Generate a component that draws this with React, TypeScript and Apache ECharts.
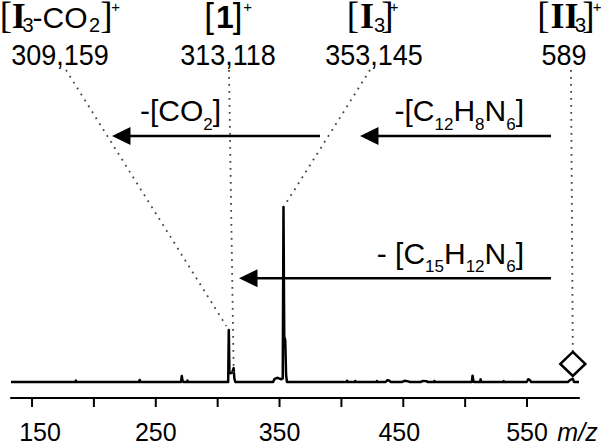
import React, { useEffect, useRef } from 'react';
import * as echarts from 'echarts';

// ---- spectrum (m/z, relative intensity) ----
const specMz = [
  133, 185.0, 185.4, 185.8, 236.6, 237.0, 237.4, 270.4, 271.0, 271.6, 272.4,
  275.2, 275.6, 276.0, 308.5, 309.0, 309.5, 310.5, 311.8, 312.9, 313.5, 314.3,
  344.8, 346.0, 348.5, 351.0, 352.6, 353.2, 353.8, 354.6, 355.3, 356.0,
  404.2, 404.6, 405.0, 410.8, 411.2, 411.6, 428.3, 428.7, 429.1, 435.8, 437.0,
  438.5, 440.0, 449.0, 451.0, 453.0, 455.5, 464.0, 466.0, 468.5, 470.0, 474.8,
  475.2, 475.6, 505.4, 506.0, 506.6, 507.2, 512.0, 512.5, 513.0, 530.8, 531.2,
  531.6, 549.8, 551.0, 552.5, 553.2, 583.0, 585.0, 587.0, 588.0, 592,
];
const specInt = [
  0, 0, 0.8, 0, 0, 1.2, 0, 0, 3.4, 0.8, 0,
  0, 0.8, 0, 0, 29.7, 5.5, 5.0, 5.5, 8.0, 2.0, 0,
  0, 1.8, 2.4, 1.6, 2.0, 100, 26, 24, 4, 0,
  0, 0.7, 0, 0, 0.6, 0, 0, 0.6, 0, 0, 1.0,
  0.8, 0, 0, 0.7, 0.5, 0, 0, 0.6, 0.5, 0, 0,
  0.6, 0, 0, 3.6, 1.0, 0, 0, 1.5, 0, 0, 0.5,
  0, 0, 1.6, 1.0, 0, 0, 1.2, 1.8, 0, 0,
];

// ---- axis ----
const xMin = 133;
const xMax = 592;
const tickValues = [150, 200, 250, 300, 350, 400, 450, 500, 550];
const tickLabels = ['150', '', '250', '', '350', '', '450', '', '550'];

// ---- annotated ions: where the connectors meet the spectrum ----
const ionMz = [307, 313, 354.2, 587];
const ionInt = [32, 3, 101, 17.5];
const ionMassLabels = ['309,159', '313,118', '353,145', '589'];
const markerMz = 587;
const markerInt = 10.3;

const SANS = '"Liberation Sans", Arial, sans-serif';
const SERIF = '"Liberation Serif", "Times New Roman", serif';

function T(text: string, x: number, y: number, size: number, family: string, weight = 'normal', extra: any = {}) {
  return {
    type: 'text',
    x,
    y,
    silent: true,
    ...extra,
    style: {
      text,
      fill: '#000',
      fontSize: size,
      fontFamily: family,
      fontWeight: weight,
      textAlign: 'center',
      textVerticalAlign: 'middle',
      verticalAlign: 'middle',
    },
  };
}

// label pieces
const BR_Y = 15.2, I_Y = 16.2, SUB_Y = 24.8, M_Y = 17.9, SUP_Y = 6.7;
function ionTitleGraphics() {
  const g: any[] = [];
  // [I3-CO2]+
  g.push(T('[', 5.8, BR_Y, 37, SERIF));
  g.push(T('I', 18.8, I_Y, 36, SERIF, 'bold'));
  g.push(T('3', 28, SUB_Y, 20, SANS));
  g.push(T('-CO', 60, M_Y, 30, SANS));
  g.push(T('2', 94.5, SUB_Y, 20, SANS));
  g.push(T(']', 106.5, BR_Y, 37, SERIF));
  g.push(T('+', 115.5, SUP_Y, 15, SANS));
  // [1]+
  g.push(T('[', 209, 15.5, 35, SANS));
  g.push(T('1', 225, 17.2, 32, SANS, 'bold'));
  g.push(T(']', 237.5, 15.5, 35, SANS));
  g.push(T('+', 247.5, SUP_Y, 15, SANS));
  // [I3]+
  g.push(T('[', 353, BR_Y, 37, SERIF));
  g.push(T('I', 367, I_Y, 36, SERIF, 'bold'));
  g.push(T('3', 379.5, SUB_Y, 20, SANS));
  g.push(T(']', 387.5, BR_Y, 37, SERIF));
  g.push(T('+', 394, SUP_Y, 15, SANS));
  // [II3]+
  g.push(T('[', 543.5, BR_Y, 37, SERIF));
  g.push(T('II', 564.5, I_Y, 36, SERIF, 'bold'));
  g.push(T('3', 580.5, SUB_Y, 20, SANS));
  g.push(T(']', 588.5, BR_Y, 37, SERIF));
  g.push(T('+', 597, SUP_Y, 15, SANS));
  return g;
}

const massLabelX = [60, 228, 374, 564];
const connectorTop = [[66, 70], [229, 70], [370, 70], [571, 70]];

function arrow(x1: number, xTip: number, y: number) {
  return [
    { type: 'line', silent: true, shape: { x1, y1: y, x2: xTip + 15, y2: y }, style: { stroke: '#000', lineWidth: 2.5 } },
    { type: 'polygon', silent: true, shape: { points: [[xTip, y], [xTip + 18.5, y - 9], [xTip + 18.5, y + 9]] }, style: { fill: '#000' } },
  ];
}

const richLoss = {
  m: { fontSize: 30, fontFamily: SANS, lineHeight: 40, fill: '#000' },
  s: { fontSize: 17, fontFamily: SANS, lineHeight: 40, fill: '#000', padding: [27, 0, 0, 0] },
};
function lossLabel(text: string, x: number, y: number) {
  return {
    type: 'text',
    x,
    y,
    silent: true,
    style: { text, rich: richLoss, fill: '#000', textAlign: 'right', textVerticalAlign: 'middle', verticalAlign: 'middle', fontSize: 30, fontFamily: SANS },
  };
}

const labelNudge: Record<number, number> = { 150: 8, 450: -4 };

export default function App() {
  const ref = useRef<HTMLDivElement>(null);
  useEffect(() => {
    document.body.style.margin = '0';
    if (!ref.current) return;
    const chart = echarts.init(ref.current, undefined, { renderer: 'svg' });
    const option: any = {
      animation: false,
      backgroundColor: '#fff',
      grid: { left: 11, right: 27, top: 189.5, bottom: 60 },
      xAxis: {
        type: 'value',
        min: xMin,
        max: xMax,
        offset: 16,
        axisLine: { show: true, onZero: false, lineStyle: { color: '#000', width: 2.2 } },
        axisTick: { show: false },
        axisLabel: { show: false },
        splitLine: { show: false },
      },
      yAxis: { type: 'value', min: 0, max: 110, show: false },
      series: [
        {
          type: 'line',
          data: specMz.map((m, i) => [m, specInt[i]]),
          showSymbol: false,
          symbol: 'none',
          clip: false,
          silent: true,
          lineStyle: { color: '#000', width: 2.5, join: 'round' },
          markLine: {
            silent: true,
            symbol: ['none', 'none'],
            label: { show: false },
            lineStyle: { color: '#444', width: 1.8, type: [1.8, 5.2] },
            emphasis: { disabled: true },
            data: ionMz.map((m, i) => [
              { x: connectorTop[i][0], y: connectorTop[i][1] },
              { coord: [m, ionInt[i]] },
            ]),
          },
          markPoint: {
            silent: true,
            symbol: 'diamond',
            symbolSize: [25, 24],
            label: { show: false },
            itemStyle: { color: '#fff', borderColor: '#000', borderWidth: 2.5 },
            data: [{ coord: [markerMz, markerInt] }],
          },
        },
        {
          type: 'custom',
          coordinateSystem: 'cartesian2d',
          clip: false,
          silent: true,
          data: tickValues.map((v) => [v, 0]),
          encode: { x: 0, y: 1 },
          renderItem: (params: any, api: any) => {
            const v = api.value(0);
            const p = api.coord([v, 0]);
            const x = p[0];
            const y0 = p[1] + 16;
            const label = tickLabels[params.dataIndex];
            const children: any[] = [
              { type: 'line', shape: { x1: x, y1: y0, x2: x, y2: y0 + 9 }, style: { stroke: '#000', lineWidth: 2 } },
            ];
            if (label) {
              children.push({
                type: 'text',
                x: x + (labelNudge[v] || 0),
                y: y0 + 33.5,
                style: { text: label, fill: '#000', fontSize: 25, fontFamily: SANS, textAlign: 'center', textVerticalAlign: 'middle', verticalAlign: 'middle' },
              });
            }
            return { type: 'group', children };
          },
        },
      ],
      graphic: [
        ...ionTitleGraphics(),
        ...ionMassLabels.map((t, i) => T(t, massLabelX[i], 54.5, 27, SANS, 'normal', { scaleY: 1.12 })),
        ...arrow(320, 112, 136),
        ...arrow(551, 360, 136),
        ...arrow(551, 239, 278.3),
        lossLabel('{m|-[CO}{s|2}{m|]}', 221, 110.6),
        lossLabel('{m|-[C}{s|12}{m|H}{s|8}{m|N}{s|6}{m|]}', 524, 110.6),
        lossLabel('{m|- [C}{s|15}{m|H}{s|12}{m|N}{s|6}{m|]}', 524, 253.2),
        {
          type: 'text',
          x: 577.5,
          y: 431.5,
          silent: true,
          style: { text: 'm/z', fill: '#000', fontSize: 25, fontStyle: 'italic', fontFamily: SANS, textAlign: 'center', textVerticalAlign: 'middle', verticalAlign: 'middle' },
        },
      ],
    };
    chart.setOption(option);
    return () => chart.dispose();
  }, []);
  return <div ref={ref} style={{ width: 606, height: 442 }} />;
}
